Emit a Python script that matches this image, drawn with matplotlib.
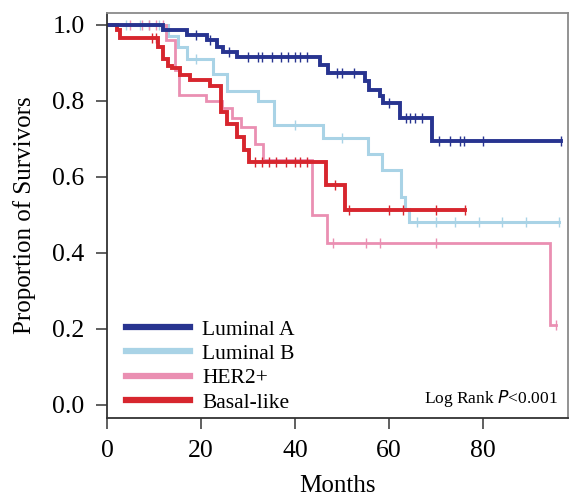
import numpy as np
import matplotlib
matplotlib.use('Agg')
import matplotlib.pyplot as plt

plt.rcParams['font.family'] = ['Liberation Serif', 'DejaVu Serif']

# Kaplan-Meier step values (months, survival)
lum_a_t = [0.5, 12, 17, 21.3, 23.4, 24.7, 27.7, 45.3, 47, 54.9, 55.8, 58, 58.7, 62.3, 69.1]
lum_a_s = [1.0, 0.985, 0.972, 0.959, 0.942, 0.929, 0.915, 0.895, 0.872, 0.851, 0.829, 0.812, 0.794, 0.755, 0.695]
lum_a_end = 96.5
lum_a_cens = [19, 22, 26, 30, 32, 33, 35, 37, 38.5, 40, 41, 42.5, 49, 50, 52.5, 60, 63.5, 64.5, 65.5, 67, 70.5, 73, 75, 75.8, 80, 96.5]

lum_b_t = [0.5, 13, 15, 17, 22.5, 25.5, 32, 35.5, 46, 55.5, 58.5, 62.5, 63.3, 64.3]
lum_b_s = [1.0, 0.97, 0.94, 0.91, 0.87, 0.825, 0.80, 0.735, 0.703, 0.659, 0.617, 0.547, 0.515, 0.48]
lum_b_end = 96
lum_b_cens = [4, 7, 9, 11, 19, 40, 50, 66, 70, 74, 79, 84, 89, 96]

her2_t = [0.5, 12.5, 14.5, 15.3, 21, 24.5, 26.5, 28.5, 31.4, 33.2, 43.6, 46.8, 94.2]
her2_s = [1.0, 0.96, 0.88, 0.815, 0.80, 0.78, 0.755, 0.73, 0.685, 0.643, 0.50, 0.425, 0.21]
her2_end = 95.5
her2_cens = [5, 7.5, 9, 10.5, 12, 48, 55, 58, 70, 95.5]

basal_t = [0.5, 2.1, 2.8, 10.8, 12, 13, 13.8, 15.5, 17.7, 21.9, 24.3, 25.5, 27.7, 29.1, 30.2, 46.6, 50.6]
basal_s = [1.0, 0.985, 0.964, 0.94, 0.91, 0.89, 0.885, 0.867, 0.855, 0.84, 0.77, 0.74, 0.705, 0.67, 0.638, 0.578, 0.513]
basal_end = 76.2
basal_cens = [9.5, 10.5, 31.5, 33, 34.5, 36, 38, 40, 41, 42.5, 48.5, 51.5, 60, 63, 70, 76.2]

groups = [
    ('Luminal B', lum_b_t, lum_b_s, lum_b_end, lum_b_cens, '#a9d3e6', 2.2),
    ('HER2+', her2_t, her2_s, her2_end, her2_cens, '#ea8fb2', 2.0),
    ('Basal-like', basal_t, basal_s, basal_end, basal_cens, '#d7262e', 2.8),
    ('Luminal A', lum_a_t, lum_a_s, lum_a_end, lum_a_cens, '#283490', 2.8),
]
legend_order = ['Luminal A', 'Luminal B', 'HER2+', 'Basal-like']


def surv_at(t, s, x):
    idx = np.searchsorted(t, x, side='right') - 1
    return np.asarray(s)[idx]


fig = plt.figure(figsize=(5.72, 4.96), dpi=100)
ax = fig.add_axes([0.187, 0.157, 0.806, 0.817])

handles = {}
for name, t, s, end, cens, color, lw in groups:
    tt = list(t) + [end]
    ss = list(s) + [s[-1]]
    line, = ax.step(tt, ss, where='post', color=color, lw=lw, solid_joinstyle='miter')
    ax.plot(cens, surv_at(t, s, cens), '|', color=color, ms=7, mew=1.0)
    handles[name] = line

leg_lines = [plt.Line2D([], [], color=handles[n].get_color(), lw=4.5) for n in legend_order]
ax.legend(leg_lines, legend_order, loc='lower left', bbox_to_anchor=(0.022, -0.008),
          frameon=False, fontsize=15.5, handlelength=3.0, handletextpad=0.55,
          labelspacing=0.2, borderaxespad=0.0)

ax.text(0.977, 0.022, 'Log Rank $\\it{P}$<0.001', transform=ax.transAxes,
        ha='right', va='bottom', fontsize=12.5)

ax.set_xlim(0, 98)
ax.set_ylim(-0.035, 1.031)
ax.set_xticks([0, 20, 40, 60, 80])
ax.set_yticks([0.0, 0.2, 0.4, 0.6, 0.8, 1.0])
ax.set_yticklabels(['0.0', '0.2', '0.4', '0.6', '0.8', '1.0'])
ax.tick_params(labelsize=18.5, length=8, width=1.2, color='#444444', pad=8)
ax.set_xlabel('Months', fontsize=18, labelpad=9)
ax.set_ylabel('Proportion of Survivors', fontsize=18, labelpad=12)
for side in ['left', 'bottom']:
    ax.spines[side].set_color('#333333')
    ax.spines[side].set_linewidth(1.3)
for side in ['top', 'right']:
    ax.spines[side].set_color('#8a8a8a')
    ax.spines[side].set_linewidth(1.3)

fig.savefig('out.png', dpi=100)
